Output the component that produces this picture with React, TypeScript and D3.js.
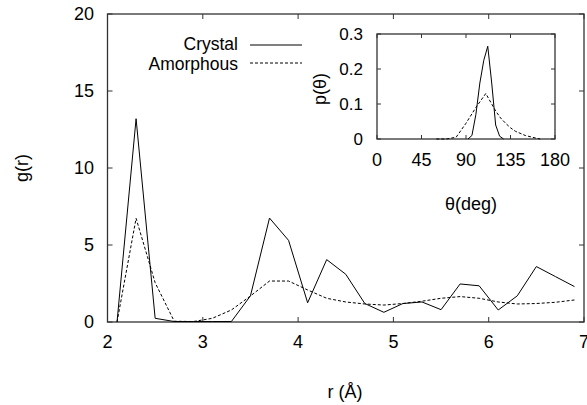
import React from "react";
import * as d3 from "d3";

const rValues = [2.1, 2.3, 2.5, 2.7, 2.9, 3.1, 3.3, 3.5, 3.7, 3.9, 4.1, 4.3, 4.5, 4.7, 4.9, 5.1, 5.3, 5.5, 5.7, 5.9, 6.1, 6.3, 6.5, 6.7, 6.9];
const crystalG = [0, 13.2, 0.24, 0.03, 0.03, 0.03, 0.03, 1.7, 6.75, 5.3, 1.25, 4.05, 3.1, 1.2, 0.63, 1.2, 1.3, 0.8, 2.47, 2.35, 0.78, 1.7, 3.6, 2.95, 2.3];
const amorphousG = [0, 6.73, 2.55, 0.05, 0.03, 0.24, 0.78, 1.69, 2.66, 2.66, 2.08, 1.54, 1.3, 1.17, 1.1, 1.2, 1.35, 1.54, 1.65, 1.54, 1.3, 1.17, 1.2, 1.28, 1.43];

const thetaCrystal = [92, 96, 100, 104, 108, 112, 116, 120, 124, 128];
const pCrystal = [0, 0.01, 0.07, 0.16, 0.225, 0.265, 0.16, 0.04, 0.008, 0];
const thetaAmorph = [60, 70, 80, 90, 100, 105, 110, 115, 120, 125, 130, 135, 140, 150, 160, 165];
const pAmorph = [0, 0, 0.005, 0.045, 0.09, 0.11, 0.13, 0.105, 0.08, 0.06, 0.045, 0.032, 0.022, 0.01, 0.003, 0];

const xTicks = [2, 3, 4, 5, 6, 7];
const yTicks = [0, 5, 10, 15, 20];
const insetXTicks = [0, 45, 90, 135, 180];
const insetYTicks = [0, 0.1, 0.2, 0.3];

const FONT = "'Liberation Sans', Arial, Helvetica, sans-serif";

export default function App() {
  const x = d3.scaleLinear().domain([2, 7]).range([107.5, 584]);
  const y = d3.scaleLinear().domain([0, 20]).range([322, 14]);
  const xi = d3.scaleLinear().domain([0, 180]).range([377, 555]);
  const yi = d3.scaleLinear().domain([0, 0.3]).range([139, 34]);

  const mainLine = d3.line<number>().x((_, i) => x(rValues[i])).y((d) => y(d));
  const crystalPath = mainLine(crystalG) || "";
  const amorphPath = mainLine(amorphousG) || "";
  const ic = d3.line<number>().x((_, i) => xi(thetaCrystal[i])).y((d) => yi(d))(pCrystal) || "";
  const ia = d3.line<number>().x((_, i) => xi(thetaAmorph[i])).y((d) => yi(d))(pAmorph) || "";

  const frame = "#333";
  const tl = 5;
  const til = 4;

  return (
    <svg width={587} height={405} style={{ position: "fixed", left: 0, top: 0, background: "#fff" }} fontFamily={FONT}>
      <rect x={0} y={0} width={587} height={405} fill="#fff" />
      {/* main frame */}
      <rect x={x(2)} y={y(20)} width={x(7) - x(2)} height={y(0) - y(20)} fill="none" stroke={frame} strokeWidth={1.3} />
      {xTicks.map((t) => (
        <g key={"xt" + t}>
          <line x1={x(t)} x2={x(t)} y1={y(0)} y2={y(0) - tl} stroke={frame} />
          <line x1={x(t)} x2={x(t)} y1={y(20)} y2={y(20) + tl} stroke={frame} />
          <text x={x(t)} y={348} fontSize={18} textAnchor="middle" fill="#000">{t}</text>
        </g>
      ))}
      {yTicks.map((t) => (
        <g key={"yt" + t}>
          <line x1={x(2)} x2={x(2) + tl} y1={y(t)} y2={y(t)} stroke={frame} />
          <line x1={x(7)} x2={x(7) - tl} y1={y(t)} y2={y(t)} stroke={frame} />
          <text x={94} y={y(t)} dy="0.36em" fontSize={18} textAnchor="end" fill="#000">{t}</text>
        </g>
      ))}
      <text x={345} y={398} fontSize={18} textAnchor="middle" fill="#000">r (Å)</text>
      <text transform={`translate(28,${(y(0) + y(20)) / 2}) rotate(-90)`} fontSize={18} textAnchor="middle" fill="#000">g(r)</text>

      {/* main data */}
      <path d={crystalPath} fill="none" stroke="#000" strokeWidth={1} />
      <path d={amorphPath} fill="none" stroke="#000" strokeWidth={1} strokeDasharray="3,2" />

      {/* legend */}
      <text x={238} y={44} dy="0.36em" fontSize={17.5} textAnchor="end" fill="#000">Crystal</text>
      <line x1={250} x2={302} y1={45} y2={45} stroke="#000" strokeWidth={1} />
      <text x={238} y={64} dy="0.36em" fontSize={17.5} textAnchor="end" fill="#000">Amorphous</text>
      <line x1={250} x2={302} y1={63} y2={63} stroke="#000" strokeWidth={1} strokeDasharray="3,2" />

      {/* inset */}
      <rect x={xi(0)} y={yi(0.3)} width={xi(180) - xi(0)} height={yi(0) - yi(0.3)} fill="#fff" stroke={frame} strokeWidth={1.3} />
      {insetXTicks.map((t) => (
        <g key={"ixt" + t}>
          <line x1={xi(t)} x2={xi(t)} y1={yi(0)} y2={yi(0) - til} stroke={frame} />
          <line x1={xi(t)} x2={xi(t)} y1={yi(0.3)} y2={yi(0.3) + til} stroke={frame} />
          <text x={xi(t)} y={yi(0) + 21} dy="0.36em" fontSize={18} textAnchor="middle" fill="#000">{t}</text>
        </g>
      ))}
      {insetYTicks.map((t) => (
        <g key={"iyt" + t}>
          <line x1={xi(0)} x2={xi(0) + til} y1={yi(t)} y2={yi(t)} stroke={frame} />
          <line x1={xi(180)} x2={xi(180) - til} y1={yi(t)} y2={yi(t)} stroke={frame} />
          <text x={363} y={yi(t)} dy="0.36em" fontSize={17} textAnchor="end" fill="#000">{t === 0 ? "0" : t.toFixed(1)}</text>
        </g>
      ))}
      <path d={ic} fill="none" stroke="#000" strokeWidth={1} />
      <path d={ia} fill="none" stroke="#000" strokeWidth={1} strokeDasharray="3,2" />
      <text transform={`translate(326,89) rotate(-90)`} fontSize={18} textAnchor="middle" fill="#000">p(θ)</text>
      <text x={471} y={204} dy="0.36em" fontSize={18} textAnchor="middle" fill="#000">θ(deg)</text>
    </svg>
  );
}
